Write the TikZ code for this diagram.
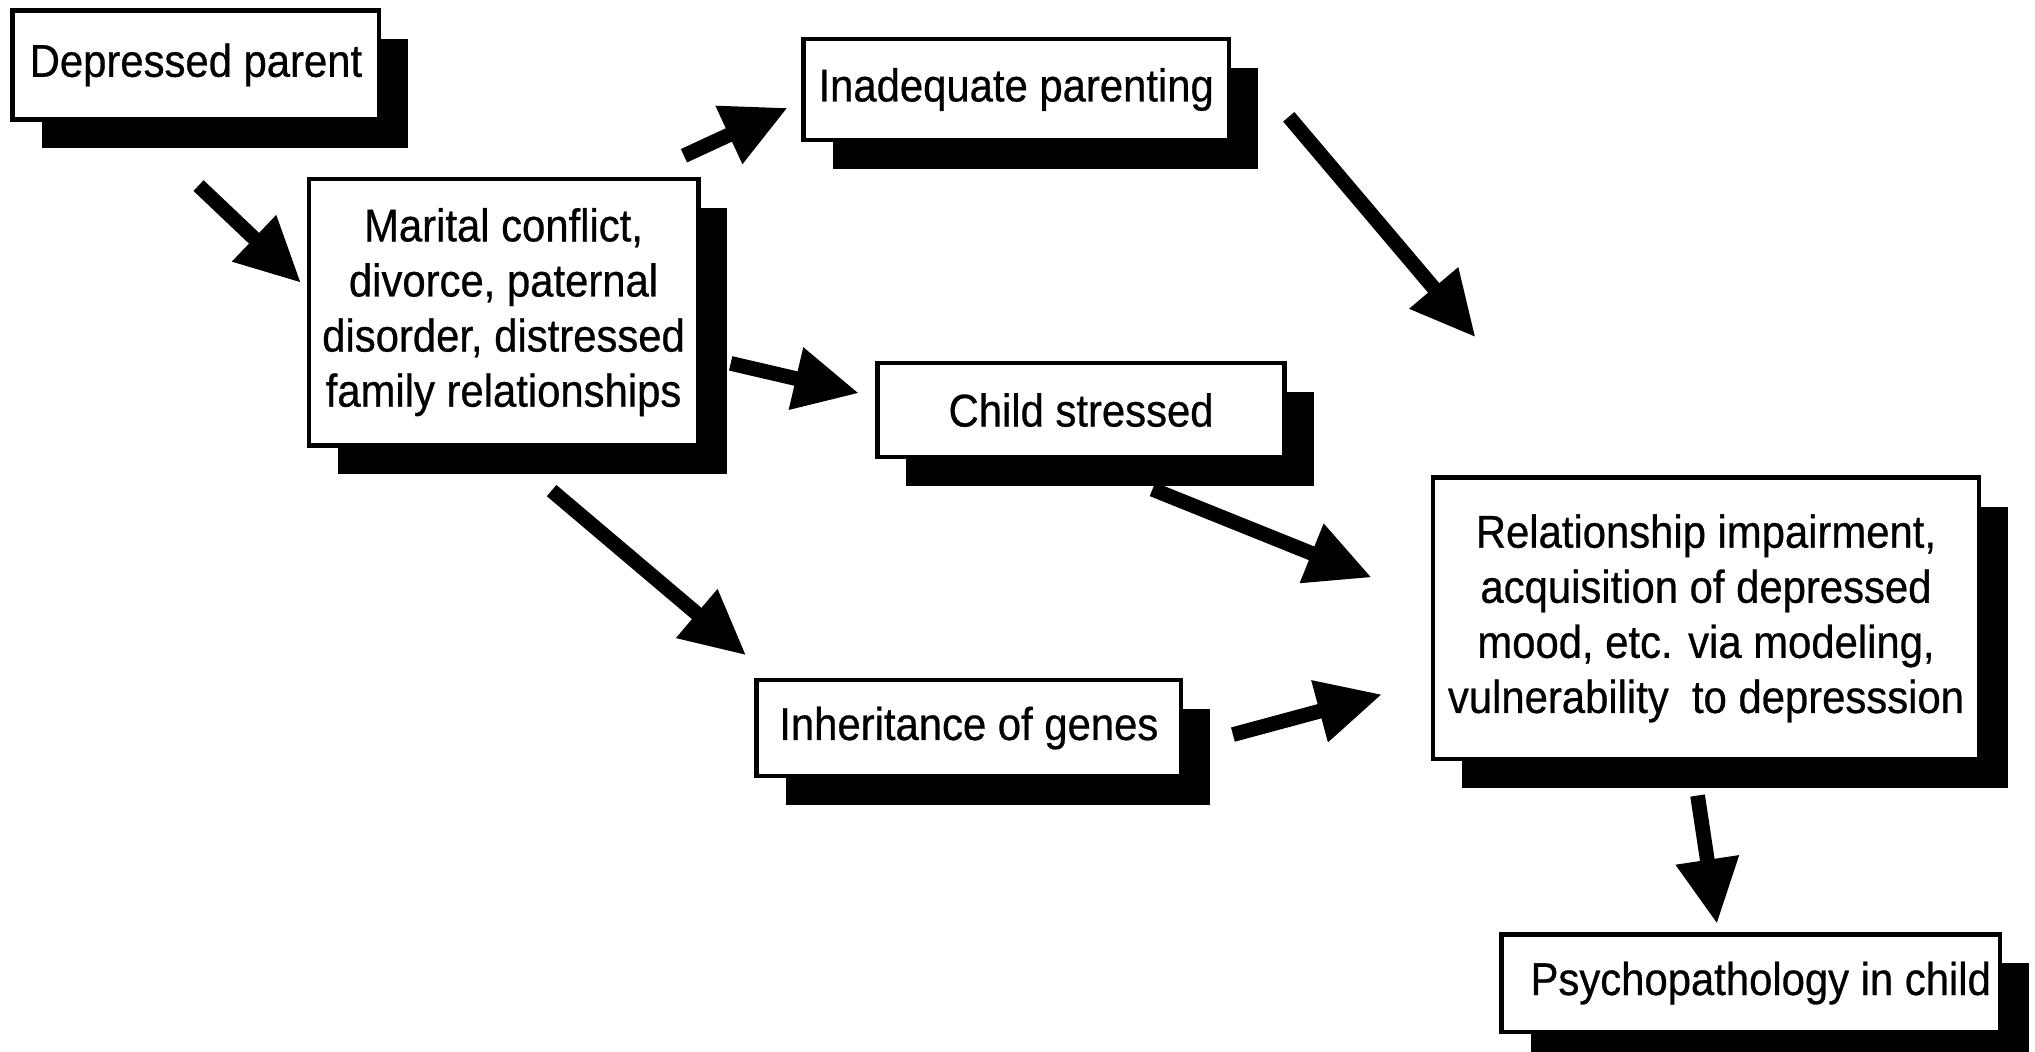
\documentclass[tikz,border=0pt]{standalone}
\usepackage{fontspec}
\setmainfont{Liberation Sans}[FakeStretch=0.91,FakeBold=0.6]
\usetikzlibrary{arrows.meta,shadows}
\tikzset{
    box/.style={rectangle,draw,line width=1.3pt,fill=white,align=center,inner sep=0pt,
        font=\fontsize{13.1}{15.7}\selectfont,
        drop shadow={shadow xshift=0.29cm,shadow yshift=-0.29cm,fill=black,opacity=1}},
    arrow/.style={-{Triangle[length=0.65cm,width=0.6cm]},line width=4.2pt,draw=black},
}

\begin{document}
\begin{tikzpicture}[x=0.013cm,y=-0.013cm]
    \useasboundingbox (0,0) rectangle (1568,810);
    \node[box,minimum width=3.67cm,minimum height=1.09cm] (1) at (151,50) {Depressed parent};
    \node[box,minimum width=3.9cm,minimum height=2.67cm] (2) at (388,240.5) {Marital conflict,\\ divorce, paternal\\ disorder, distressed\\ family relationships};
    \node[box,minimum width=4.26cm,minimum height=1.01cm] (3) at (783,69) {Inadequate parenting};
    \node[box,minimum width=4.08cm,minimum height=0.94cm] (4) at (833,316) {Child stressed};
    \node[box,minimum width=4.25cm,minimum height=0.96cm] (5) at (746.5,561) {Inheritance of genes};
    \node[box,minimum width=5.47cm,minimum height=2.82cm] (6) at (1314.5,476.5) {Relationship impairment,\\ acquisition of depressed\\ mood, etc. via modeling,\\ vulnerability\ \ to depresssion};
    \node[box,minimum width=4.99cm,minimum height=0.975cm] (7) at (1349,757.5) {\hspace*{0.2cm}Psychopathology in child};
    % arrow ends
    \coordinate (a1) at (153,143);  \coordinate (b1) at (232,218);
    \coordinate (a2) at (527,120);  \coordinate (b2) at (607,83);
    \coordinate (a3) at (563,280);  \coordinate (b3) at (662,303);
    \coordinate (a4) at (425,378);  \coordinate (b4) at (575,505);
    \coordinate (a5) at (993,90);   \coordinate (b5) at (1137,260);
    \coordinate (a6) at (888,377);  \coordinate (b6) at (1057,445);
    \coordinate (a7) at (950,566);  \coordinate (b7) at (1065,535);
    \coordinate (a8) at (1308,613); \coordinate (b8) at (1323,712);
    \draw[arrow] (a1) -- (b1);
    \draw[arrow] (a2) -- (b2);
    \draw[arrow] (a3) -- (b3);
    \draw[arrow] (a4) -- (b4);
    \draw[arrow] (a5) -- (b5);
    \draw[arrow] (a6) -- (b6);
    \draw[arrow] (a7) -- (b7);
    \draw[arrow] (a8) -- (b8);
\end{tikzpicture}
\end{document}
